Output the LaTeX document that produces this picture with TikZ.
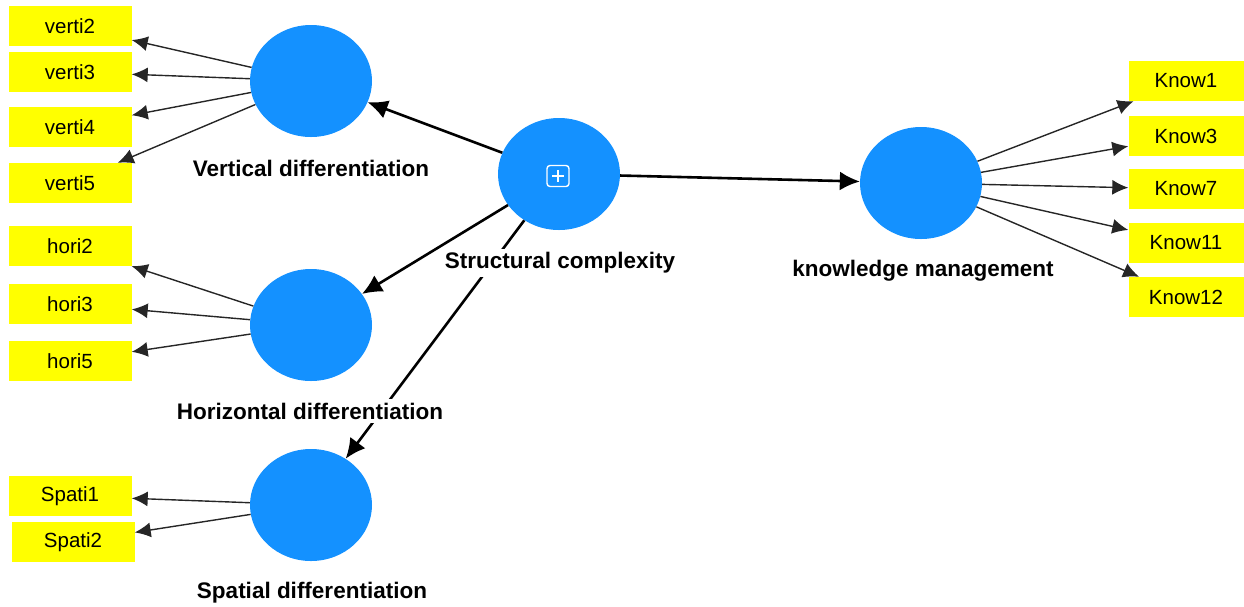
\documentclass[tikz,border=0pt]{standalone}
\usepackage{fontspec}
\setmainfont{Liberation Sans}
\usetikzlibrary{arrows.meta,shapes.geometric}
\definecolor{lvblue}{RGB}{20,145,255}
\definecolor{mvyellow}{RGB}{255,255,0}
\tikzset{
 lv/.style={ellipse,fill=lvblue,inner sep=0pt,minimum width=122pt,minimum height=112pt},
 mv/.style={rectangle,fill=mvyellow,inner sep=0pt,minimum width=123pt,minimum height=40pt,
  font=\fontsize{20.5}{24}\selectfont},
 lt/.style={fill=white,inner sep=4pt,font=\fontsize{22.5}{26}\selectfont\bfseries},
 ia/.style={-{Latex[length=16pt,width=15pt]},line width=1.4pt,draw=black!85},
 sa/.style={-{Latex[length=20pt,width=19pt]},line width=2.6pt}}

\begin{document}
\begin{tikzpicture}[x=1pt,y=-1pt]
 \useasboundingbox (0,0) rectangle (1244,606);
 % latent variables
 \node[lv] (vd) at (311,81) {};
 \node[lv] (hd) at (311,325) {};
 \node[lv] (spd) at (311,505) {};
 \node[lv] (sc) at (559,174) {};
 \node[lv] (km) at (921,183) {};
 \node[draw=white,line width=1.4pt,rounded corners=3pt,inner sep=0pt,
  minimum width=22pt,minimum height=21pt] (plus) at (558,176) {};
 \draw[white,line width=1.6pt] (plus.center) ++(-6,0) -- ++(12,0)
  (plus.center) ++(0,-6) -- ++(0,12);
 % indicators
 \node[mv] (v2) at (70,26) {verti2};
 \node[mv] (v3) at (70,72) {verti3};
 \node[mv] (v4) at (70,127) {verti4};
 \node[mv] (v5) at (70,183) {verti5};
 \node[mv] (h2) at (70,246) {hori2};
 \node[mv] (h3) at (70,304) {hori3};
 \node[mv] (h5) at (70,361) {hori5};
 \node[mv] (s1) at (70,496) {Spati1};
 \node[mv] (s2) at (73,542) {Spati2};
 \node[mv,minimum width=115pt] (k1) at (1186,81) {Know1};
 \node[mv,minimum width=115pt] (k3) at (1186,136) {Know3};
 \node[mv,minimum width=115pt] (k7) at (1186,189) {Know7};
 \node[mv,minimum width=115pt] (k11) at (1186,243) {Know11};
 \node[mv,minimum width=115pt] (k12) at (1186,297) {Know12};
 % loadings
 \foreach \b in {v2,v3,v4,v5} \draw[ia] (vd) -- (\b);
 \foreach \b in {h2,h3,h5} \draw[ia] (hd) -- (\b);
 \foreach \b in {s1,s2} \draw[ia] (spd) -- (\b);
 \foreach \b in {k1,k3,k7,k11,k12} \draw[ia] (km) -- (\b);
 % structural paths
 \draw[sa] (sc) -- (vd);
 \draw[sa] (sc) -- (hd);
 \draw[sa] (sc) -- (spd);
 \draw[sa] (sc) -- (km);
 % captions
 \node[lt] (vdl) at (311,168) {Vertical differentiation};
 \node[lt] (scl) at (560,263) {Structural complexity};
 \node[lt] (hdl) at (310,411) {Horizontal differentiation};
 \node[lt] (spdl) at (312,593) {Spatial differentiation};
 \node[lt] (kml) at (923,271) {knowledge management};
\end{tikzpicture}
\end{document}
